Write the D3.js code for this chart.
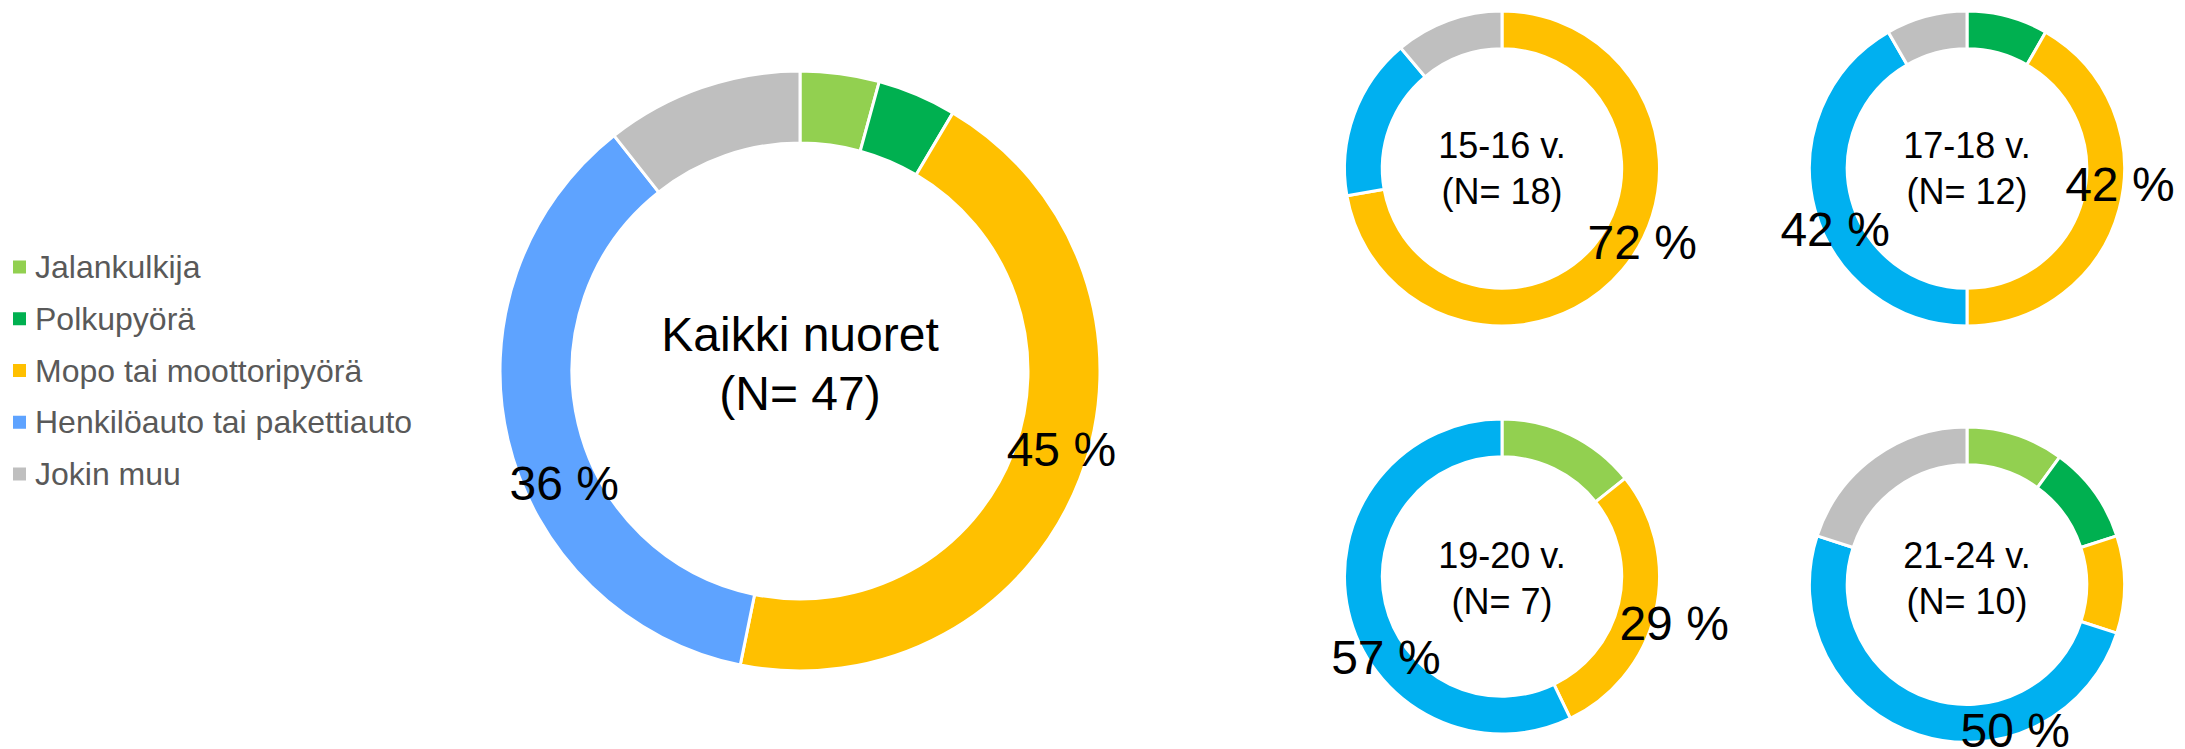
<!DOCTYPE html>
<html>
<head>
<meta charset="utf-8">
<script src="https://cdn.jsdelivr.net/npm/d3@7"></script>
<style>
  body { margin: 0; background: #fff; }
  svg { display: block; font-family: "Liberation Sans", Arial, sans-serif; }
</style>
</head>
<body>
<div id="chart"></div>
<script>
// datos
const categories = ["Jalankulkija", "Polkupyörä", "Mopo tai moottoripyörä", "Henkilöauto tai pakettiauto", "Jokin muu"]
const groups = ["Kaikki nuoret", "15-16 v.", "17-18 v.", "19-20 v.", "21-24 v."]
const groupN = [47, 18, 12, 7, 10]
// vastaajien määrä kulkutavoittain (sama järjestys kuin categories)
const allValues = [2, 2, 21, 17, 5]
const v1516 = [0, 0, 13, 3, 2]
const v1718 = [0, 1, 5, 5, 1]
const v1920 = [1, 0, 2, 4, 0]
const v2124 = [1, 1, 1, 5, 2]
const groupValues = [allValues, v1516, v1718, v1920, v2124]

const mainColors = ["#92D050", "#00B050", "#FFC000", "#5EA3FF", "#BFBFBF"]
const smallColors = ["#92D050", "#00B050", "#FFC000", "#00B0F0", "#BFBFBF"]

const width = 2185
const height = 749

// sijainnit
const layout = [
  {cx: 800, cy: 371, r: 300, font: 48, textY: 364, lineGap: 59},
  {cx: 1502, cy: 168.5, r: 157.5, font: 36, textY: 168, lineGap: 46},
  {cx: 1967, cy: 168.5, r: 157.5, font: 36, textY: 168, lineGap: 46},
  {cx: 1502, cy: 576.5, r: 157.5, font: 36, textY: 578, lineGap: 46},
  {cx: 1967, cy: 584.5, r: 157.5, font: 36, textY: 578, lineGap: 46}
]
// pienet siirrot prosenttiteksteille (dx, dy) kategoriaindeksin mukaan
const labelNudge = [
  {2: [15, -17], 3: [21, 51]},
  {2: [34, -15]},
  {2: [19, -20], 3: [2, 25]},
  {2: [37, 16], 3: [19, 50]},
  {3: [91, 14]}
]

const svg = d3.select("div#chart").append("svg").attr("width", width).attr("height", height)

const pie = d3.pie().sort(null).value(d => d)

groups.forEach((g, i) => {
  const L = layout[i]
  const colors = i === 0 ? mainColors : smallColors
  const arc = d3.arc().innerRadius(L.r * 0.76).outerRadius(L.r)
  const total = d3.sum(groupValues[i])

  const chart = svg.append("g").attr("class", "donut").attr("transform", `translate(${L.cx},${L.cy})`)

  const slices = pie(groupValues[i]).map((d, k) => ({...d, k})).filter(d => d.value > 0)

  chart.selectAll("path").data(slices).enter()
    .append("path")
    .attr("d", arc)
    .attr("fill", d => colors[d.k])
    .attr("stroke", "#fff")
    .attr("stroke-width", 3)

  // prosentit (vain isot osuudet)
  chart.selectAll("text.pct").data(slices.filter(d => d.value / total >= 0.25)).enter()
    .append("text")
    .attr("class", "pct")
    .attr("x", d => arc.centroid(d)[0] + (labelNudge[i][d.k] || [0, 0])[0])
    .attr("y", d => arc.centroid(d)[1] + (labelNudge[i][d.k] || [0, 0])[1])
    .attr("dy", "0.35em")
    .attr("text-anchor", "middle")
    .style("font-size", "48px")
    .style("fill", "#000")
    .text(d => Math.round(d.value / total * 100) + " %")

  // keskiteksti
  const t = svg.append("text")
    .attr("text-anchor", "middle")
    .style("font-size", L.font + "px")
    .style("fill", "#000")
  t.append("tspan").attr("x", L.cx).attr("y", L.textY - L.lineGap / 2).attr("dy", "0.35em").text(g)
  t.append("tspan").attr("x", L.cx).attr("y", L.textY + L.lineGap / 2).attr("dy", "0.35em").text(`(N= ${groupN[i]})`)
})

// selite
const legend = svg.append("g").attr("class", "legend")
const legendY = d3.scalePoint().domain(categories).range([267, 474])

const items = legend.selectAll("g").data(categories).enter()
  .append("g")
  .attr("transform", d => `translate(0,${legendY(d)})`)

items.append("rect")
  .attr("x", 13).attr("y", -6.5)
  .attr("width", 13).attr("height", 13)
  .attr("fill", (d, k) => mainColors[k])

items.append("text")
  .attr("x", 35)
  .attr("dy", "0.35em")
  .style("font-size", "32px")
  .style("fill", "#595959")
  .text(d => d)
</script>
</body>
</html>
